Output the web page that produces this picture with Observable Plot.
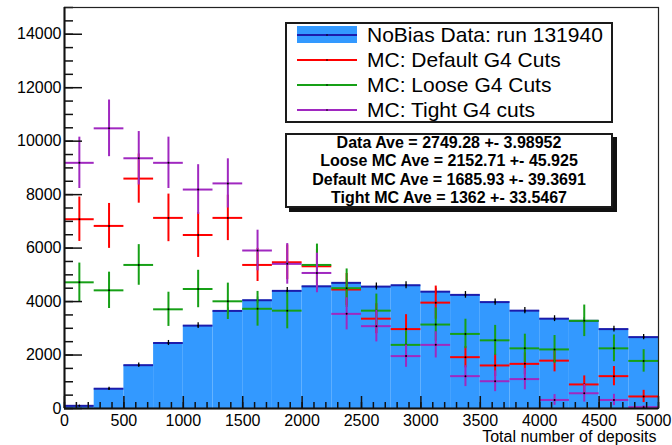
<!DOCTYPE html>
<html><head><meta charset="utf-8">
<script src="https://cdn.jsdelivr.net/npm/d3@7"></script>
<script src="https://cdn.jsdelivr.net/npm/@observablehq/plot@0.6"></script>
<style>
body{margin:0;background:#fff;}
#wrap{position:relative;width:672px;height:445px;font-family:"Liberation Sans",Arial,Helvetica,sans-serif;color:#000;}
#legend{position:absolute;left:285px;top:22px;width:324px;height:97px;border:2px solid #1a1a1a;background:#fff;}
#legend .lbl{position:absolute;left:80px;height:24px;line-height:24px;font-size:21px;white-space:nowrap;}
#legend svg{position:absolute;left:0;top:0;}
#stats{position:absolute;left:285px;top:133px;width:324px;height:71px;border:2px solid #1a1a1a;background:#fff;box-shadow:4px 4px 0 #111;}
#stats .ln{position:absolute;left:0;width:100%;text-align:center;height:18px;line-height:18px;font-size:16px;font-weight:bold;white-space:nowrap;}
</style>
</head><body>
<div id="wrap"></div>
<script>
// ---- data ----
const binLo = [0,250,500,750,1000,1250,1500,1750,2000,2250,2500,2750,3000,3250,3500,3750,4000,4250,4500,4750];
const binWidth = 250;
const dataCounts = [100,740,1620,2450,3100,3650,4050,4400,4570,4700,4560,4610,4370,4250,3980,3660,3360,3280,2970,2670];
const dataErr    = [20,55,80,95,105,115,120,125,130,130,130,130,125,125,120,115,110,110,105,100];
const defaultMC  = [7080,6830,8600,7130,6490,7130,5370,5470,5320,4450,3360,2970,3960,1920,1610,1670,1790,900,1210,450];
const defaultErr = [830,840,920,890,840,850,620,650,650,600,560,540,620,400,420,410,420,320,360,230];
const looseMC    = [4720,4420,5370,3710,4470,4010,3730,3660,5370,4500,3660,2380,3140,2790,2550,2250,2210,3280,2250,1780];
const looseErr   = [720,680,760,640,700,680,650,680,780,720,620,520,620,550,560,530,520,590,500,420];
const tightMC    = [9190,10480,9360,9190,8190,8420,5910,5410,5070,3540,3080,1960,2380,1210,1020,1100,320,570,320,50];
const tightErr   = [960,1060,1000,960,930,920,760,760,740,600,590,420,490,390,390,400,200,330,210,50];

const seriesNames  = ["NoBias Data: run 131940","MC: Default G4 Cuts","MC: Loose G4 Cuts","MC: Tight G4 cuts"];
const seriesColors = ["#3399ff","#ff0000","#16a016","#a028c0"];
const dataLine = "#1c1cac";
const statsLines = ["Data Ave = 2749.28 +- 3.98952","Loose MC Ave = 2152.71 +- 45.925","Default MC Ave = 1685.93 +- 39.3691","Tight MC Ave = 1362 +- 33.5467"];

const xMajor = [0,500,1000,1500,2000,2500,3000,3500,4000,4500,5000];
const xLabels = ["0","500","1000","1500","2000","2500","3000","3500","4000","4500","5000"];
const xMinor = d3.range(0,5001,100);
const yMajor = [0,2000,4000,6000,8000,10000,12000,14000];
const yMinor = d3.range(0,15001,500);
const xTitle = "Total number of deposits";

// ---- build table ----
const rows = binLo.map((lo,i)=>({lo, hi: lo+binWidth, mid: lo+binWidth/2, data: dataCounts[i], dErr: dataErr[i]}));
const mc = [
  {vals: defaultMC, errs: defaultErr, color: seriesColors[1]},
  {vals: looseMC, errs: looseErr, color: seriesColors[2]},
  {vals: tightMC, errs: tightErr, color: seriesColors[3]}
];
const xTickRows = xMajor.map((v,i)=>({v, label: xLabels[i], last: i === xMajor.length-1}));

const W = 672, H = 445, mL = 64, mR = 14, mT = 7, mB = 37;
const frameW = W - mL - mR, frameH = H - mT - mB;

const mcMarks = mc.flatMap(s => {
  const pts = rows.map((r,i)=>({lo:r.lo, hi:r.hi, mid:r.mid, v:s.vals[i], e:s.errs[i]}));
  return [
    Plot.ruleY(pts, {x1:"lo", x2:"hi", y:"v", stroke:s.color, strokeWidth:2}),
    Plot.ruleX(pts, {x:"mid", y1:d=>Math.max(0,d.v-d.e), y2:d=>d.v+d.e, stroke:s.color, strokeWidth:2}),
    Plot.dot(pts, {x:"mid", y:"v", r:1, fill:"#000", stroke:null})
  ];
});

const chart = Plot.plot({
  width: W, height: H,
  marginLeft: mL, marginRight: mR, marginTop: mT, marginBottom: mB,
  style: {fontFamily: '"Liberation Sans", Arial, Helvetica, sans-serif', fontSize: "16px", color: "#000", background: "#fff", overflow: "visible"},
  x: {domain: [0,5000], label: null, axis: null},
  y: {domain: [0,15000], label: null, axis: null},
  marks: [
    Plot.rectY(rows, {x1:"lo", x2:"hi", y:"data", fill: seriesColors[0]}),
    Plot.ruleY(rows, {x1:"lo", x2:"hi", y:"data", stroke: dataLine, strokeWidth: 2}),
    Plot.ruleX(rows, {x:"mid", y1:d=>d.data-d.dErr, y2:d=>d.data+d.dErr, stroke:"#000", strokeWidth:1.3}),
    Plot.dot(rows, {x:"mid", y:"data", r:1, fill:"#000", stroke:null}),
    ...mcMarks,
    // inward ticks
    Plot.tickY(yMinor, {y:d=>d, insetRight: frameW-9, stroke:"#111", strokeWidth:1.5}),
    Plot.tickY(yMajor, {y:d=>d, insetRight: frameW-18, stroke:"#111", strokeWidth:1.5}),
    Plot.tickX(xMinor, {x:d=>d, insetTop: frameH-6, stroke:"#111", strokeWidth:1.5}),
    Plot.tickX(xMajor, {x:d=>d, insetTop: frameH-12, stroke:"#111", strokeWidth:1.5}),
    Plot.frame({stroke:"#222", strokeWidth:1.2}),
    Plot.ruleX([0], {stroke:"#111", strokeWidth:2}),
    Plot.ruleY([0], {stroke:"#111", strokeWidth:2}),
    Plot.axisY({ticks: yMajor, tickSize: 0, tickPadding: 3, tickFormat: d=>String(d), label: null, fontSize: 16}),
    Plot.text(xTickRows.filter(d=>!d.last), {x:"v", text:"label", frameAnchor:"bottom", dy: 12, lineAnchor:"middle", fontSize: 16, fill:"#000"}),
    Plot.text(xTickRows.filter(d=>d.last), {x:"v", text:"label", frameAnchor:"bottom", dy: 12, dx: 13, textAnchor:"end", lineAnchor:"middle", fontSize: 16, fill:"#000"}),
    Plot.text([xTitle], {frameAnchor:"bottom-right", text:d=>d, dy: 28, dx: -2, textAnchor:"end", lineAnchor:"middle", fontSize: 16, fill:"#000"})
  ]
});

const wrap = document.getElementById("wrap");
wrap.appendChild(chart);

// ---- legend ----
const leg = document.createElement("div");
leg.id = "legend";
const ns = "http://www.w3.org/2000/svg";
const sv = document.createElementNS(ns, "svg");
sv.setAttribute("width", 324); sv.setAttribute("height", 97);
seriesNames.forEach((name,i)=>{
  const cy = 11 + 25*i;
  if (i === 0) {
    const r = document.createElementNS(ns,"rect");
    r.setAttribute("x",10); r.setAttribute("y",cy-9); r.setAttribute("width",60); r.setAttribute("height",17);
    r.setAttribute("fill",seriesColors[0]); sv.appendChild(r);
  }
  const l = document.createElementNS(ns,"line");
  l.setAttribute("x1",10); l.setAttribute("x2",70); l.setAttribute("y1",cy); l.setAttribute("y2",cy);
  l.setAttribute("stroke", i===0 ? dataLine : seriesColors[i]); l.setAttribute("stroke-width",2);
  sv.appendChild(l);
  const c = document.createElementNS(ns,"circle");
  c.setAttribute("cx",40); c.setAttribute("cy",cy); c.setAttribute("r",0.8); c.setAttribute("fill","#000");
  sv.appendChild(c);
  const t = document.createElement("div");
  t.className = "lbl"; t.style.top = (cy-12)+"px"; t.textContent = name;
  leg.appendChild(t);
});
leg.insertBefore(sv, leg.firstChild);
wrap.appendChild(leg);

// ---- stats box ----
const st = document.createElement("div");
st.id = "stats";
const centers = [8,26,45,63];
statsLines.forEach((s,i)=>{
  const d = document.createElement("div");
  d.className = "ln"; d.style.top = (centers[i]-9)+"px"; d.textContent = s;
  st.appendChild(d);
});
wrap.appendChild(st);
</script>
</body></html>
